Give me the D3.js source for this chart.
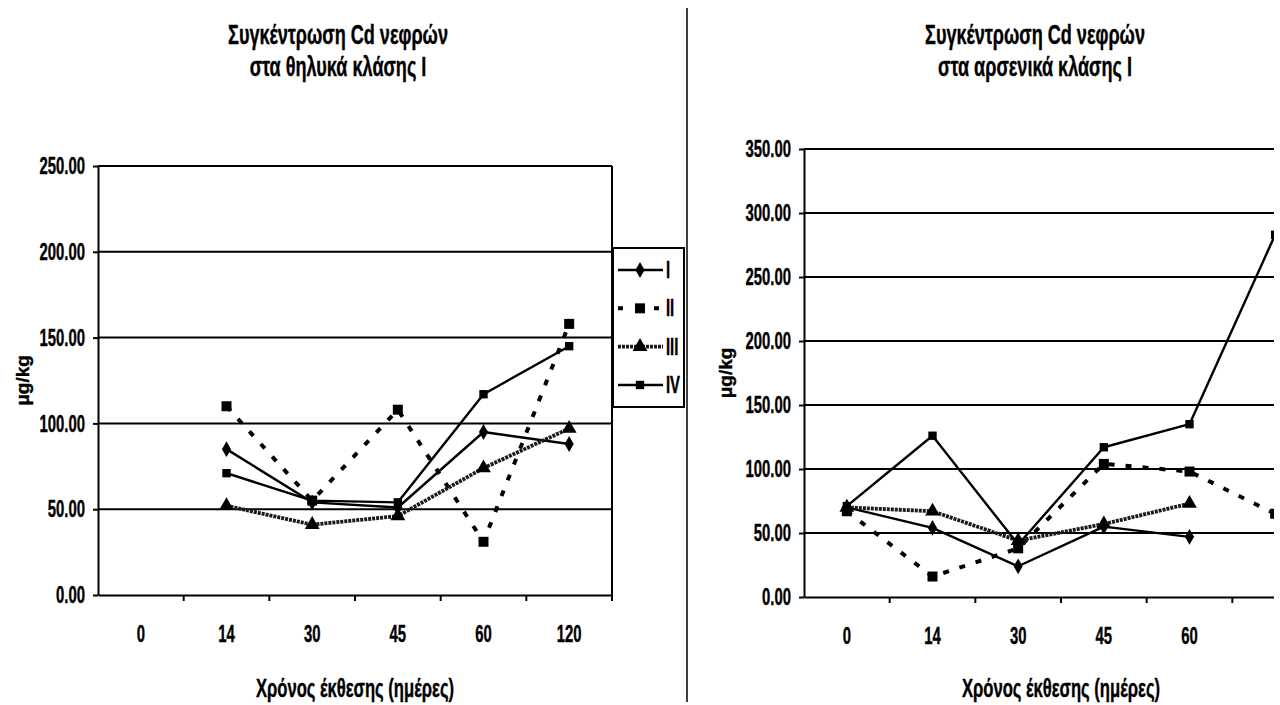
<!DOCTYPE html>
<html>
<head>
<meta charset="utf-8">
<script src="https://cdn.jsdelivr.net/npm/d3@7"></script>
<style>
  html, body { margin: 0; padding: 0; background: #fff; }
  svg { display: block; }
  text { font-family: "Liberation Sans", Arial, "DejaVu Sans", sans-serif; font-weight: bold; fill: #000; stroke: #000; stroke-width: 0.4; }
</style>
</head>
<body>
<svg id="chart" width="1280" height="705"></svg>
<script>
// Exposure time categories (days)
const categories = ["0", "14", "30", "45", "60", "120"];
const seriesNames = ["I", "II", "III", "IV"];

// Kidney Cd concentration, females of class I (μg/kg)
const femaleI   = [null, 85, 54, 51, 95, 88];
const femaleII  = [null, 110, 55, 108, 31, 158];
const femaleIII = [null, 52, 41, 46, 74, 97];
const femaleIV  = [null, 71, 55, 54, 117, 145];

// Kidney Cd concentration, males of class I (μg/kg)
const maleI   = [70, 54, 24, 55, 47, null];
const maleII  = [67, 16, 38, 104, 98, 65];
const maleIII = [70, 67, 44, 57, 73, null];
const maleIV  = [71, 126, 41, 117, 135, 283];

// Value-axis tick labels
const femaleTicks = [0, 50, 100, 150, 200, 250];
const maleTicks = [0, 50, 100, 150, 200, 250, 300, 350];

const titleLine1 = "Συγκέντρωση Cd νεφρών";
const femaleTitle2 = "στα θηλυκά κλάσης Ι";
const maleTitle2 = "στα αρσενικά κλάσης Ι";
const xTitle = "Χρόνος έκθεσης (ημέρες)";
const yTitle = "μg/kg";

const svg = d3.select("#chart");
const SX = 0.62;          // horizontal squeeze for the narrow lettering
const FS = 24;            // tick label font size

const styles = {
  I:   { symbol: d3.symbolDiamond,  size: 72, dash: null,   width: 2.4 },
  II:  { symbol: d3.symbolSquare,   size: 100, dash: "6 11", width: 4 },
  III: { symbol: d3.symbolTriangle, size: 95, dash: "3 1",  width: 3.8 },
  IV:  { symbol: d3.symbolSquare,   size: 70, dash: null,   width: 2.4 }
};

// Narrow the text horizontally while keeping its anchor point in place
function squeeze(sel, sx) {
  sel.each(function () {
    const t = d3.select(this);
    const x = +t.attr("x") || 0;
    t.attr("x", x / sx).attr("transform", `scale(${sx},1)`);
  });
}

function label(parent, x, y, txt, size, sx) {
  const t = parent.append("text")
    .attr("x", x).attr("y", y)
    .attr("text-anchor", "middle")
    .attr("font-size", size)
    .text(txt);
  squeeze(t, sx);
  return t;
}

const defs = svg.append("defs");
defs.append("clipPath").attr("id", "clipRight")
  .append("rect").attr("x", 690).attr("y", 0).attr("width", 584).attr("height", 705);

function drawPanel(cfg) {
  const root = svg.append("g");
  const g = root.append("g");
  if (cfg.clip) g.attr("clip-path", `url(#${cfg.clip})`);

  const x = d3.scaleBand().domain(categories).range(cfg.xRange);
  const y = d3.scaleLinear().domain([0, d3.max(cfg.ticks)]).range(cfg.yRange);
  const bw = x.bandwidth();
  const cx = c => x(c) + bw / 2;
  const [px0, px1] = cfg.xRange;

  // horizontal gridlines
  g.append("g").selectAll("line")
    .data(cfg.ticks.filter(t => t > 0))
    .join("line")
    .attr("x1", px0).attr("x2", px1)
    .attr("y1", d => y(d)).attr("y2", d => y(d))
    .attr("stroke", "#000").attr("stroke-width", 2);

  if (cfg.rightBorder) {
    g.append("line")
      .attr("x1", px1).attr("x2", px1)
      .attr("y1", y(d3.max(cfg.ticks))).attr("y2", y(0) + 6)
      .attr("stroke", "#000").attr("stroke-width", 2);
  }

  // value axis
  const ya = g.append("g").attr("transform", `translate(${px0},0)`)
    .call(d3.axisLeft(y).tickValues(cfg.ticks).tickFormat(d3.format(".2f"))
      .tickSize(5).tickSizeOuter(0).tickPadding(8));
  ya.attr("font-size", null).attr("font-family", null);
  ya.selectAll("path, line").attr("stroke", "#000").attr("stroke-width", 2);
  ya.selectAll("text").attr("font-size", FS).call(squeeze, SX);

  // category axis (labels centred in each category, ticks between them)
  const xa = g.append("g").attr("transform", `translate(0,${y(0)})`);
  xa.call(d3.axisBottom(x).tickValues(cfg.labelled).tickSize(0).tickSizeOuter(0).tickPadding(30));
  xa.attr("font-size", null).attr("font-family", null);
  xa.selectAll("path").attr("stroke", "#000").attr("stroke-width", 2);
  xa.selectAll("text").attr("font-size", FS).call(squeeze, SX);
  xa.selectAll("line.sep")
    .data(categories)
    .join("line").attr("class", "sep")
    .attr("x1", d => x(d) + bw).attr("x2", d => x(d) + bw)
    .attr("y1", 0).attr("y2", 6)
    .attr("stroke", "#000").attr("stroke-width", 2);

  // series
  const line = d3.line()
    .defined(d => d.v != null)
    .x(d => cx(d.c))
    .y(d => y(d.v));

  cfg.series.forEach((vals, i) => {
    const st = styles[seriesNames[i]];
    const pts = categories.map((c, j) => ({ c, v: vals[j] }));
    g.append("path").datum(pts)
      .attr("d", line)
      .attr("fill", "none")
      .attr("stroke", i === 2 ? "#1a1a1a" : "#000")
      .attr("stroke-width", st.width)
      .attr("stroke-dasharray", st.dash)
      .attr("stroke-linejoin", "round");
    g.append("g").selectAll("path")
      .data(pts.filter(d => d.v != null))
      .join("path")
      .attr("transform", d => `translate(${cx(d.c)},${y(d.v)})`)
      .attr("d", d3.symbol(st.symbol, st.size))
      .attr("fill", "#000");
  });

  // titles
  label(root, cfg.titleX, 44, titleLine1, 27, 0.67);
  label(root, cfg.titleX, 76, cfg.title2, 27, 0.67);
  label(root, (px0 + px1) / 2, 697, xTitle, 26, 0.64);
  root.append("text")
    .attr("transform", `translate(${cfg.yTitleX},${(cfg.yRange[0] + cfg.yRange[1]) / 2}) rotate(-90)`)
    .attr("text-anchor", "middle")
    .attr("dominant-baseline", "central")
    .attr("font-size", 19)
    .text(yTitle);
}

drawPanel({
  xRange: [98, 612],
  yRange: [595, 166],
  ticks: femaleTicks,
  labelled: categories,
  series: [femaleI, femaleII, femaleIII, femaleIV],
  title2: femaleTitle2,
  titleX: 338,
  yTitleX: 22,
  rightBorder: true
});

drawPanel({
  xRange: [804, 1318],
  yRange: [597, 149],
  ticks: maleTicks,
  labelled: categories.slice(0, 5),
  series: [maleI, maleII, maleIII, maleIV],
  title2: maleTitle2,
  titleX: 1035,
  yTitleX: 725,
  clip: "clipRight"
});

// legend for the female panel
const legend = svg.append("g");
legend.append("rect")
  .attr("x", 613).attr("y", 248).attr("width", 71).attr("height", 159)
  .attr("fill", "#fff").attr("stroke", "#000").attr("stroke-width", 2);
const legendY = d3.scalePoint().domain(seriesNames).range([270, 385]);
seriesNames.forEach((name, i) => {
  const st = styles[name];
  const yy = legendY(name);
  legend.append("line")
    .attr("x1", 618).attr("x2", 663).attr("y1", yy).attr("y2", yy)
    .attr("stroke", i === 2 ? "#1a1a1a" : "#000")
    .attr("stroke-width", st.width)
    .attr("stroke-dasharray", name === "II" ? "5 13" : st.dash);
  legend.append("path")
    .attr("transform", `translate(640,${yy})`)
    .attr("d", d3.symbol(st.symbol, st.size))
    .attr("fill", "#000");
  const t = legend.append("text")
    .attr("x", 666).attr("y", yy + 8)
    .attr("font-size", FS)
    .text(name);
  squeeze(t, SX);
});

// divider between the two panels
svg.append("line")
  .attr("x1", 687).attr("x2", 687).attr("y1", 8).attr("y2", 702)
  .attr("stroke", "#000").attr("stroke-width", 1.5);
</script>
</body>
</html>
